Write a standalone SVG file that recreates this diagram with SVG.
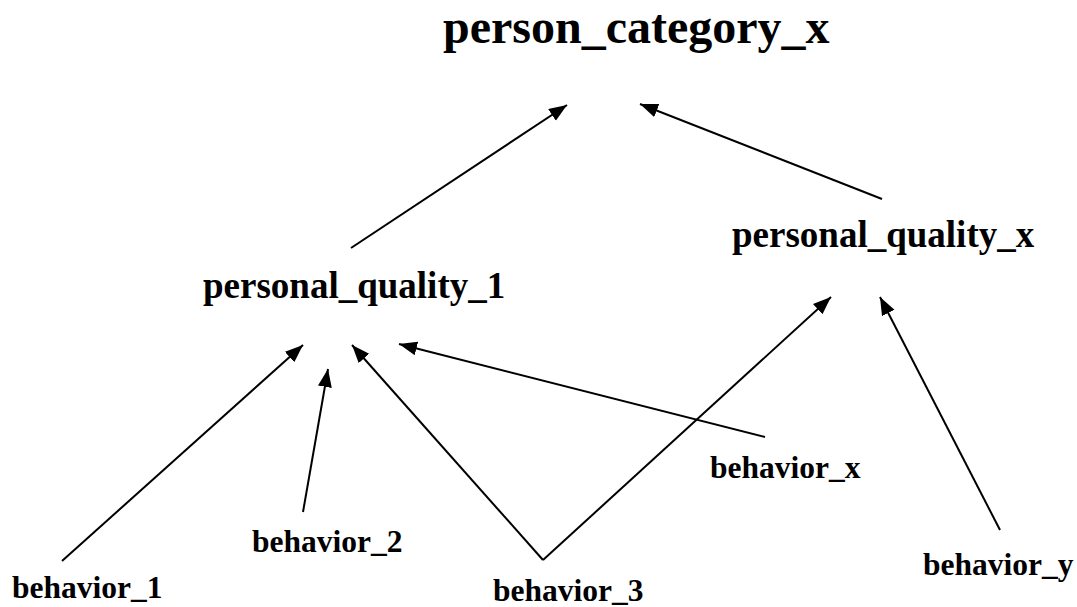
<svg xmlns="http://www.w3.org/2000/svg" width="1077" height="607" viewBox="0 0 1077 607">
<style>
text{font-family:"Liberation Serif","Times New Roman",serif;font-weight:bold;fill:#000}
.t{font-size:48px}
.q{font-size:37px}
.b{font-size:31.5px}
.c line{stroke:#000;stroke-width:2;marker-end:url(#ah)}
</style>
<defs>
<marker id="ah" markerUnits="userSpaceOnUse" markerWidth="20" markerHeight="16" refX="18" refY="7" orient="auto">
<path d="M0,0 L18,7 L0,14 z" fill="#000"/>
</marker>
</defs>
<rect width="1077" height="607" fill="#fff"/>
<g class="c" id="connectors">
<line x1="351" y1="248" x2="567" y2="105"/>
<line x1="882" y1="199" x2="640" y2="104"/>
<line x1="62" y1="561" x2="303" y2="345"/>
<line x1="303" y1="512" x2="328" y2="369"/>
<line x1="543" y1="560" x2="352" y2="345"/>
<line x1="543" y1="560" x2="831" y2="297"/>
<line x1="765" y1="437" x2="399" y2="344"/>
<line x1="1000" y1="530" x2="880" y2="297"/>
</g>
<g id="person_category_x"><text class="t" x="443" y="43">person_category_x</text></g>
<g id="personal_quality_1"><text class="q" x="203" y="298">personal_quality_1</text></g>
<g id="personal_quality_x"><text class="q" x="732" y="247">personal_quality_x</text></g>
<g id="behavior_1"><text class="b" x="12" y="598">behavior_1</text></g>
<g id="behavior_2"><text class="b" x="252" y="552">behavior_2</text></g>
<g id="behavior_3"><text class="b" x="493" y="601">behavior_3</text></g>
<g id="behavior_x"><text class="b" x="710" y="478">behavior_x</text></g>
<g id="behavior_y"><text class="b" x="923" y="575">behavior_y</text></g>
</svg>
